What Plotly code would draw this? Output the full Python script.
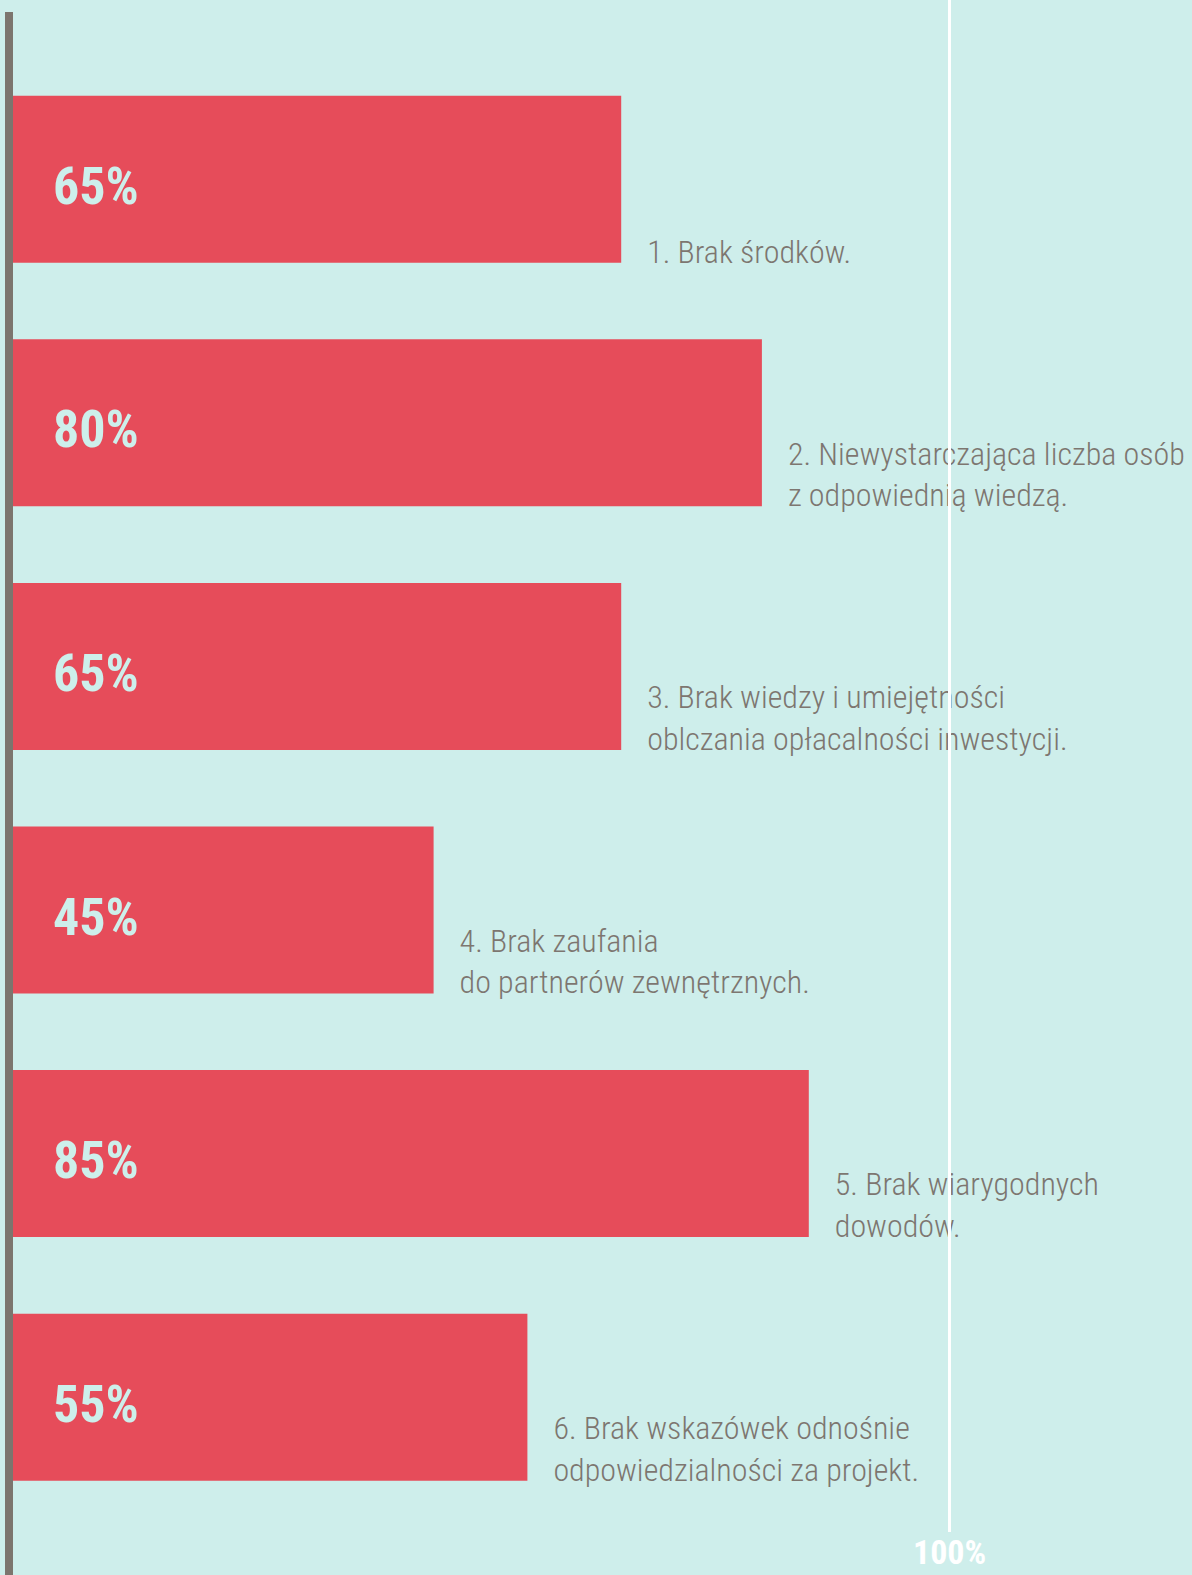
import plotly.graph_objects as go

# Survey results: barriers to investment (share of respondents, %)
labels = [
    "1. Brak środków.",
    "2. Niewystarczająca liczba osób<br>z odpowiednią wiedzą.",
    "3. Brak wiedzy i umiejętności<br>oblczania opłacalności inwestycji.",
    "4. Brak zaufania<br>do partnerów zewnętrznych.",
    "5. Brak wiarygodnych<br>dowodów.",
    "6. Brak wskazówek odnośnie<br>odpowiedzialności za projekt.",
]
values = [65, 80, 65, 45, 85, 55]
reference_value = 100
reference_label = "100%"

# Page geometry and styling
W, H = 1192, 1575
BG = "#ceeeeb"
BAR = "#e64c5a"
TXT = "#7d7670"
AXIS = "#7c756e"
LIGHT = "#cdefeb"
FONT = "Roboto Condensed, Liberation Sans Narrow, Roboto, sans-serif"

X0_PX = 11.5          # pixel where 0 % sits
PX_PER_UNIT = 9.38    # horizontal scale
ROW0_PX = 179.2       # centre of first row
ROW_PX = 243.6        # row pitch
BAR_PX = 167          # bar thickness
LABEL_SIZE = 32
LABEL_GAP_PX = 26

x_range = [-X0_PX / PX_PER_UNIT, (W - X0_PX) / PX_PER_UNIT]
y_range = [(H - ROW0_PX) / ROW_PX, -ROW0_PX / ROW_PX]
bar_w = BAR_PX / ROW_PX

fig = go.Figure()

fig.add_trace(go.Bar(
    x=values,
    y=list(range(len(labels))),
    orientation="h",
    width=bar_w,
    marker=dict(color=BAR, line=dict(width=0)),
    hoverinfo="skip",
))

# Category descriptions to the right of each bar, last line resting on the bar's bottom edge
label_x = [v + LABEL_GAP_PX / PX_PER_UNIT for v in values]
label_y = [i + bar_w / 2 + 0.25 * LABEL_SIZE / ROW_PX for i in range(len(labels))]
fig.add_trace(go.Scatter(
    x=label_x,
    y=label_y,
    mode="text",
    text=labels,
    textposition="top right",
    textfont=dict(family=FONT, size=LABEL_SIZE, color=TXT, weight=300),
    cliponaxis=False,
    hoverinfo="skip",
))

# Percentage values inside the bars
annotations = []
for i, v in enumerate(values):
    annotations.append(dict(
        x=0, y=i, xref="x", yref="y",
        text=f"{v}%",
        showarrow=False,
        xanchor="left", yanchor="middle",
        xshift=39, yshift=-7,
        font=dict(family=FONT, size=52, color=LIGHT, weight="bold"),
    ))

# Label under the 100 % guide line, sitting on the bottom edge of the page
annotations.append(dict(
    x=reference_value, y=0, xref="x", yref="paper",
    text=reference_label,
    showarrow=False,
    xanchor="center", yanchor="bottom",
    yshift=1,
    font=dict(family=FONT, size=34, color="white", weight="bold"),
))

shapes = [
    # 100 % guide line
    dict(type="line", xref="x", yref="paper",
         x0=reference_value, x1=reference_value, y0=1 - 1532 / H, y1=1,
         line=dict(color="white", width=3), layer="above"),
    # left baseline
    dict(type="line", xref="paper", yref="paper",
         x0=9 / W, x1=9 / W, y0=0, y1=1 - 12 / H,
         line=dict(color=AXIS, width=8), layer="above"),
]

fig.update_layout(
    width=W, height=H,
    margin=dict(l=0, r=0, t=0, b=0),
    paper_bgcolor=BG, plot_bgcolor=BG,
    showlegend=False,
    xaxis=dict(range=x_range, visible=False, fixedrange=True),
    yaxis=dict(range=y_range, visible=False, fixedrange=True),
    annotations=annotations,
    shapes=shapes,
)

fig.write_html("out.html")
